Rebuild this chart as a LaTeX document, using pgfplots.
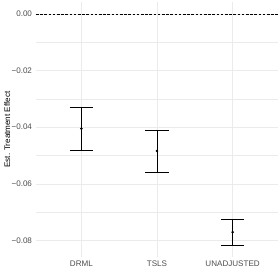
\documentclass[border=0pt]{standalone}
\usepackage{pgfplots}
\pgfplotsset{compat=1.18}
\usepackage{fontspec}
\setmainfont{Liberation Sans}
\definecolor{gridc}{HTML}{EBEBEB}
\definecolor{tickc}{HTML}{4D4D4D}
\begin{document}
\begin{tikzpicture}
\begin{axis}[
  at={(0,0)}, anchor=south west,
  scale only axis, width=242bp, height=254.4bp,
  xmin=0.4, xmax=3.6, ymin=-0.0858, ymax=0.0041,
  axis line style={draw=none},
  tick style={draw=none},
  xtick={1,2,3}, xticklabels={DRML,TSLS,UNADJUSTED},
  ytick={-0.08,-0.06,-0.04,-0.02,0},
  yticklabels={−0.08,−0.06,−0.04,−0.02,0.00},
  minor ytick={-0.07,-0.05,-0.03,-0.01},
  scaled y ticks=false,
  ticklabel style={font=\fontsize{8.1}{9}\selectfont, text=tickc},
  xticklabel style={yshift=-0.5bp},
  yticklabel style={xshift=-0.5bp},
  grid=both,
  major grid style={gridc, line width=0.55bp},
  minor grid style={gridc, line width=0.3bp},
  ylabel={Est. Treatment Effect},
  ylabel style={font=\fontsize{8.1}{9}\selectfont, at={(axis description cs:-0.119,0.5)}, anchor=center},
  clip=false,
]
\addplot[black, line width=0.5bp, dash pattern=on 2.6bp off 1.6bp] coordinates {(0.4,0) (3.6,0)};
\addplot[black, only marks, mark=*, mark size=1bp, line width=0.6bp,
  error bars/.cd, y dir=both, y explicit,
  error mark=|, error mark options={mark size=11.5bp, line width=0.6bp, black},
  error bar style={line width=0.6bp, black}]
  coordinates {
    (1,-0.0405) +- (0,0.0076)
    (2,-0.0484) +- (0,0.0074)
    (3,-0.0771) +- (0,0.0046)
  };
\end{axis}
\pgfresetboundingbox
\path (-36bp,-23.2bp) rectangle (244bp,256.8bp);
\end{tikzpicture}
\end{document}
